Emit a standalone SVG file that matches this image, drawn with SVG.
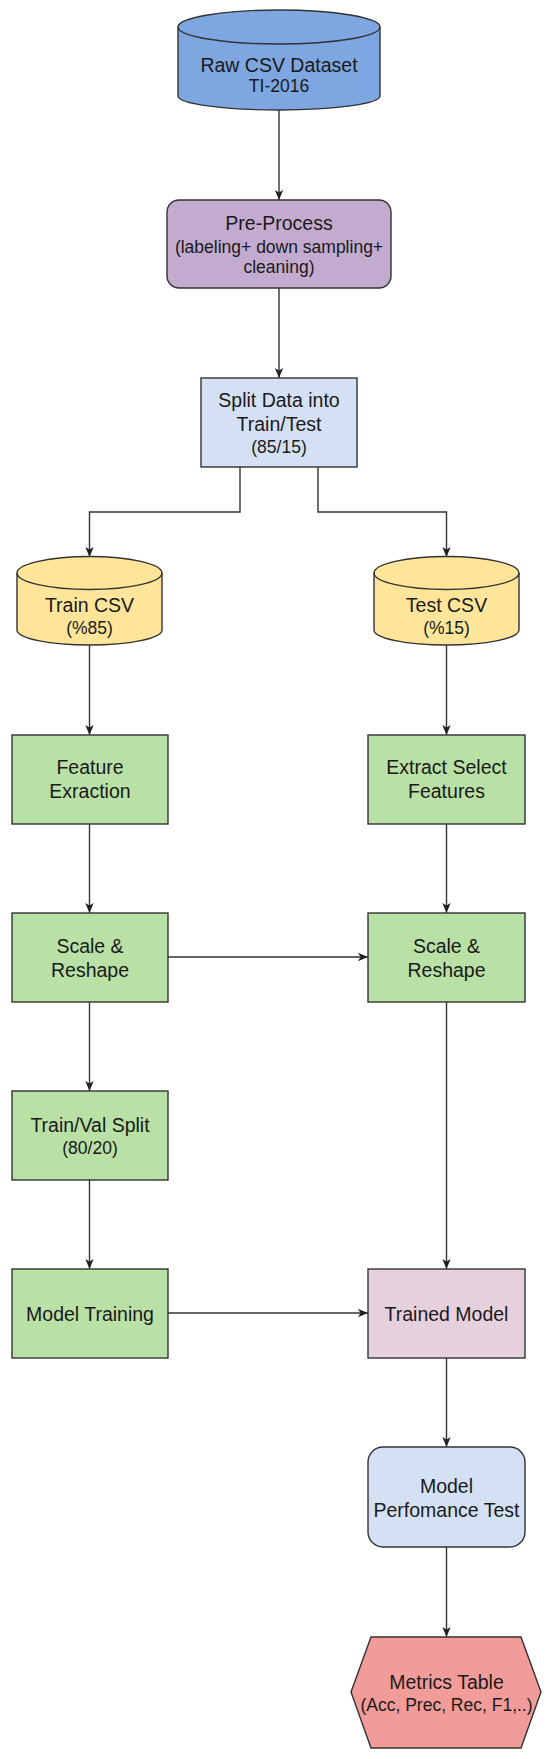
<svg xmlns="http://www.w3.org/2000/svg" width="550" height="1759" viewBox="0 0 550 1759">
<style>
.s{stroke:#333333;stroke-width:1.4}
.t{font-family:"Liberation Sans",Arial,sans-serif;fill:#1a1a1a;text-anchor:middle}
.m{font-size:19.5px}
.u{font-size:17.5px}
.c{fill:none;stroke:#333333;stroke-width:1.4;marker-end:url(#ah)}
</style>
<defs>
<marker id="ah" markerUnits="userSpaceOnUse" markerWidth="10" markerHeight="10" viewBox="0 0 10 10" refX="10" refY="5" orient="auto">
<path d="M0,0.8 L10,5 L0,9.2 L2.5,5 z" fill="#222222"/>
</marker>
</defs>
<rect width="550" height="1759" fill="#ffffff"/>
<g id="connectors">
<path class="c" d="M279,110 L279,200"/>
<path class="c" d="M279,288 L279,378"/>
<path class="c" d="M240,467 L240,512 L89.5,512 L89.5,557"/>
<path class="c" d="M318,467 L318,512 L446.5,512 L446.5,557"/>
<path class="c" d="M89.5,645 L89.5,735"/>
<path class="c" d="M446.5,645 L446.5,735"/>
<path class="c" d="M89.5,824 L89.5,913"/>
<path class="c" d="M446.5,824 L446.5,913"/>
<path class="c" d="M168,957 L368,957"/>
<path class="c" d="M89.5,1002 L89.5,1091"/>
<path class="c" d="M446.5,1002 L446.5,1269"/>
<path class="c" d="M89.5,1180 L89.5,1269"/>
<path class="c" d="M168,1313 L368,1313"/>
<path class="c" d="M446.5,1358 L446.5,1447"/>
<path class="c" d="M446.5,1547 L446.5,1637"/>
</g>
<g id="raw-csv">
<path class="s" fill="#7EA6E0" d="M178,27 A101,17 0 0 1 380,27 L380,96 A101,14 0 0 1 178,96 Z"/>
<path class="s" fill="none" d="M178,27 A101,17 0 0 0 380,27"/>
<text class="t m" x="279" y="72">Raw CSV Dataset</text>
<text class="t u" x="279" y="92">TI-2016</text>
</g>
<g id="pre-process">
<rect class="s" x="167" y="200" width="224" height="88" rx="12" fill="#C3ABD0"/>
<text class="t m" x="279" y="230">Pre-Process</text>
<text class="t u" x="279" y="253">(labeling+ down sampling+</text>
<text class="t u" x="279" y="273">cleaning)</text>
</g>
<g id="split">
<rect class="s" x="201" y="378" width="156" height="89" fill="#D4E1F5"/>
<text class="t m" x="279" y="407">Split Data into</text>
<text class="t m" x="279" y="431">Train/Test</text>
<text class="t u" x="279" y="453">(85/15)</text>
</g>
<g id="train-csv">
<path class="s" fill="#FFE599" d="M17,573 A72.5,16.5 0 0 1 162,573 L162,630 A72.5,15 0 0 1 17,630 Z"/>
<path class="s" fill="none" d="M17,573 A72.5,16.5 0 0 0 162,573"/>
<text class="t m" x="89.5" y="612">Train CSV</text>
<text class="t u" x="89.5" y="634">(%85)</text>
</g>
<g id="test-csv">
<path class="s" fill="#FFE599" d="M374,573 A72.5,16.5 0 0 1 519,573 L519,630 A72.5,15 0 0 1 374,630 Z"/>
<path class="s" fill="none" d="M374,573 A72.5,16.5 0 0 0 519,573"/>
<text class="t m" x="446.5" y="612">Test CSV</text>
<text class="t u" x="446.5" y="634">(%15)</text>
</g>
<g id="feature-extraction">
<rect class="s" x="12" y="735" width="156" height="89" fill="#B9E0A5"/>
<text class="t m" x="90" y="774">Feature</text>
<text class="t m" x="90" y="798">Exraction</text>
</g>
<g id="extract-select">
<rect class="s" x="368" y="735" width="157" height="89" fill="#B9E0A5"/>
<text class="t m" x="446.5" y="774">Extract Select</text>
<text class="t m" x="446.5" y="798">Features</text>
</g>
<g id="scale-left">
<rect class="s" x="12" y="913" width="156" height="89" fill="#B9E0A5"/>
<text class="t m" x="90" y="953">Scale &amp;</text>
<text class="t m" x="90" y="977">Reshape</text>
</g>
<g id="scale-right">
<rect class="s" x="368" y="913" width="157" height="89" fill="#B9E0A5"/>
<text class="t m" x="446.5" y="953">Scale &amp;</text>
<text class="t m" x="446.5" y="977">Reshape</text>
</g>
<g id="train-val">
<rect class="s" x="12" y="1091" width="156" height="89" fill="#B9E0A5"/>
<text class="t m" x="90" y="1132">Train/Val Split</text>
<text class="t u" x="90" y="1154">(80/20)</text>
</g>
<g id="model-training">
<rect class="s" x="12" y="1269" width="156" height="89" fill="#B9E0A5"/>
<text class="t m" x="90" y="1321">Model Training</text>
</g>
<g id="trained-model">
<rect class="s" x="368" y="1269" width="157" height="89" fill="#E6D0DE"/>
<text class="t m" x="446.5" y="1321">Trained Model</text>
</g>
<g id="performance-test">
<rect class="s" x="368" y="1447" width="157" height="100" rx="15" fill="#D4E1F5"/>
<text class="t m" x="446.5" y="1493">Model</text>
<text class="t m" x="446.5" y="1517">Perfomance Test</text>
</g>
<g id="metrics-table">
<path class="s" fill="#F19C99" d="M371,1637 L521,1637 L541,1692 L521,1748 L371,1748 L351,1692 Z"/>
<text class="t m" x="446.5" y="1689">Metrics Table</text>
<text class="t u" x="446.5" y="1711">(Acc, Prec, Rec, F1,..)</text>
</g>
</svg>
